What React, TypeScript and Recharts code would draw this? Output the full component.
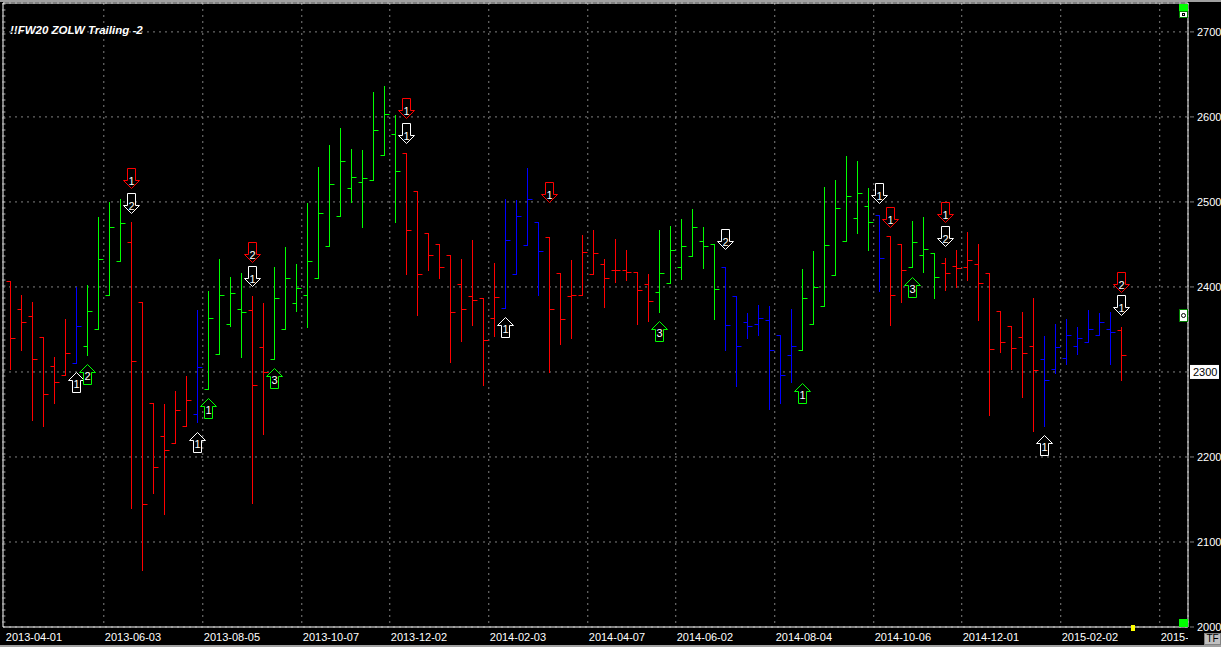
import { ComposedChart, Bar, Scatter, XAxis, YAxis, CartesianGrid, ReferenceArea } from 'recharts';

// weekly OHLC bars, first bar = week of 2013-04-01
const opens = [
  2407, 2374, 2366, 2341, 2307, 2297, 2310, 2331, 2351, 2391, 2431, 2453, 2382, 2264, 2225, 2216, 2236, 2251,
  2280, 2321, 2356, 2374, 2373, 2329, 2315, 2351, 2381, 2390, 2410, 2448, 2484, 2516, 2524, 2526, 2555, 2580,
  2558, 2513, 2464, 2451, 2438, 2403, 2389, 2387, 2363, 2375, 2415, 2449, 2476, 2459, 2416, 2389, 2390, 2415,
  2427, 2420, 2420, 2418, 2404, 2394, 2405, 2424, 2436, 2454, 2450, 2424, 2389, 2359, 2357, 2361, 2344, 2320,
  2326, 2356, 2377, 2414, 2454, 2481, 2495, 2485, 2460, 2451, 2423, 2438, 2440, 2428, 2425, 2423, 2427, 2416,
  2372, 2354, 2341, 2331, 2315, 2303, 2316, 2330, 2335, 2343, 2351, 2349,
];
const highs = [
  2407, 2391, 2382, 2341, 2318, 2362, 2400, 2402, 2482, 2500, 2504, 2476, 2382, 2264, 2262, 2278, 2295, 2373,
  2395, 2433, 2412, 2416, 2389, 2381, 2424, 2447, 2427, 2499, 2541, 2567, 2587, 2562, 2561, 2629, 2636, 2602,
  2558, 2513, 2464, 2451, 2438, 2433, 2455, 2387, 2428, 2504, 2502, 2540, 2476, 2459, 2416, 2432, 2461, 2467,
  2433, 2456, 2444, 2418, 2415, 2467, 2472, 2480, 2492, 2471, 2450, 2424, 2389, 2369, 2379, 2377, 2344, 2374,
  2421, 2442, 2518, 2526, 2554, 2548, 2516, 2485, 2460, 2451, 2478, 2482, 2440, 2434, 2444, 2465, 2451, 2416,
  2372, 2354, 2371, 2387, 2342, 2356, 2362, 2353, 2373, 2369, 2371, 2353,
];
const lows = [
  2303, 2326, 2244, 2236, 2263, 2297, 2310, 2320, 2351, 2391, 2431, 2140, 2067, 2158, 2133, 2216, 2236, 2241,
  2280, 2321, 2354, 2318, 2146, 2227, 2315, 2351, 2372, 2353, 2410, 2448, 2484, 2500, 2470, 2526, 2555, 2476,
  2415, 2367, 2420, 2410, 2312, 2337, 2355, 2285, 2342, 2375, 2415, 2449, 2390, 2300, 2333, 2340, 2390, 2415,
  2376, 2406, 2408, 2357, 2360, 2371, 2405, 2409, 2436, 2422, 2362, 2326, 2283, 2340, 2344, 2257, 2263, 2288,
  2326, 2356, 2377, 2414, 2454, 2463, 2444, 2395, 2355, 2382, 2423, 2417, 2387, 2396, 2400, 2408, 2361, 2249,
  2324, 2304, 2270, 2231, 2236, 2299, 2309, 2321, 2335, 2343, 2309, 2291,
];
const closes = [
  2340, 2359, 2315, 2274, 2288, 2322, 2354, 2372, 2433, 2470, 2475, 2313, 2145, 2188, 2208, 2255, 2267, 2306,
  2363, 2390, 2393, 2371, 2285, 2300, 2387, 2411, 2399, 2430, 2487, 2521, 2548, 2529, 2528, 2585, 2603, 2536,
  2467, 2415, 2438, 2423, 2371, 2374, 2385, 2338, 2388, 2455, 2483, 2503, 2442, 2374, 2362, 2390, 2441, 2440,
  2411, 2420, 2417, 2396, 2383, 2416, 2443, 2448, 2470, 2448, 2397, 2355, 2330, 2354, 2363, 2326, 2296, 2330,
  2387, 2400, 2449, 2493, 2507, 2510, 2476, 2434, 2391, 2420, 2453, 2445, 2412, 2416, 2422, 2432, 2405, 2327,
  2335, 2328, 2322, 2302, 2291, 2329, 2343, 2340, 2351, 2359, 2347, 2320,
];
// trend colour of each bar: r = down, g = up, b = neutral
const trend = [
  'r', 'r', 'r', 'r', 'r', 'r', 'b', 'g', 'g', 'g', 'g', 'r', 'r', 'r', 'r', 'r', 'r', 'b',
  'g', 'g', 'g', 'g', 'r', 'r', 'g', 'g', 'g', 'g', 'g', 'g', 'g', 'g', 'g', 'g', 'g', 'g',
  'r', 'r', 'r', 'r', 'r', 'r', 'r', 'r', 'r', 'b', 'b', 'b', 'b', 'r', 'r', 'r', 'r', 'r',
  'r', 'r', 'r', 'r', 'r', 'g', 'g', 'g', 'g', 'g', 'g', 'b', 'b', 'b', 'b', 'b', 'b', 'b',
  'g', 'g', 'g', 'g', 'g', 'g', 'g', 'b', 'r', 'r', 'g', 'g', 'g', 'r', 'r', 'r', 'r', 'r',
  'r', 'r', 'r', 'r', 'b', 'b', 'b', 'b', 'b', 'b', 'b', 'r',
];

// signal arrows: bar index, price at the arrow tip, direction, colour, label
const signalBars = [11, 11, 6, 7, 22, 22, 18, 17, 24, 36, 36, 45, 49, 59, 65, 72, 79, 80, 82, 85, 85, 94, 101, 101];
const signalPrices = [2516, 2487, 2300, 2309, 2429, 2401, 2269, 2229, 2305, 2599, 2569, 2365, 2500, 2360, 2445, 2287, 2499, 2471, 2412, 2476, 2448, 2226, 2394, 2367];
const signalDirs = ['d', 'd', 'u', 'u', 'd', 'd', 'u', 'u', 'u', 'd', 'd', 'u', 'd', 'u', 'd', 'u', 'd', 'd', 'u', 'd', 'd', 'u', 'd', 'd'];
const signalColors = ['r', 'w', 'w', 'g', 'r', 'w', 'g', 'w', 'g', 'r', 'w', 'w', 'r', 'g', 'w', 'g', 'w', 'r', 'g', 'r', 'w', 'w', 'r', 'w'];
const signalLabels = ['1', '2', '1', '2', '2', '1', '1', '1', '3', '1', '1', '1', '1', '3', '2', '1', '1', '1', '3', '1', '2', '1', '2', '1'];

const tickDates = ['2013-04-01', '2013-06-03', '2013-08-05', '2013-10-07', '2013-12-02', '2014-02-03', '2014-04-07', '2014-06-02', '2014-08-04', '2014-10-06', '2014-12-01', '2015-02-02', '2015-04-06'];
const tickBars = [0, 9, 18, 27, 35, 44, 53, 61, 70, 79, 87, 96, 105];
const priceTicks = [2000, 2100, 2200, 2300, 2400, 2500, 2600, 2700];

const COLORS: Record<string, string> = { r: '#ff0000', g: '#00ff00', b: '#0000ff', w: '#ffffff' };
const FONT = '"Liberation Sans", Arial, sans-serif';
const PLOT_RIGHT = 1188;
const X_MIN = -0.664;
const X_MAX = 107.07;
const Y_MIN = 2000;
const Y_MAX = 2734;

const bars = opens.map((o, i) => ({
  x: i,
  range: [lows[i], highs[i]],
  open: o,
  high: highs[i],
  low: lows[i],
  close: closes[i],
  color: COLORS[trend[i]],
}));

const signals = signalBars.map((b, i) => ({
  x: b,
  y: signalPrices[i],
  dir: signalDirs[i],
  color: COLORS[signalColors[i]],
  label: signalLabels[i],
}));

function OhlcShape(props: any) {
  const { x, y, width, height, payload } = props;
  if (x == null || y == null) return null;
  const c = Math.round(x + width / 2) + 0.5;
  const span = payload.high - payload.low || 1;
  const py = (p: number) => Math.round(y + ((payload.high - p) / span) * height) + 0.5;
  return (
    <g stroke={payload.color} strokeWidth={1}>
      <line x1={c} x2={c} y1={Math.round(y)} y2={Math.round(y + height) + 1} />
      <line x1={c - 4} x2={c} y1={py(payload.open)} y2={py(payload.open)} />
      <line x1={c} x2={c + 5} y1={py(payload.close)} y2={py(payload.close)} />
    </g>
  );
}

function ArrowShape(props: any) {
  const { cx, cy, payload } = props;
  if (cx == null || cy == null) return null;
  const c = Math.round(cx) + 0.5;
  const t = Math.round(cy) + 0.5;
  const d =
    payload.dir === 'd'
      ? `M${c - 4} ${t - 20} H${c + 4} V${t - 8} H${c + 8} L${c} ${t} L${c - 8} ${t - 8} H${c - 4} Z`
      : `M${c} ${t} L${c + 8} ${t + 8} H${c + 4} V${t + 20} H${c - 4} V${t + 8} H${c - 8} Z`;
  const ty = payload.dir === 'd' ? t - 8 : t + 11;
  return (
    <g>
      <path d={d} fill="#000" stroke={payload.color} strokeWidth={1} />
      <text x={c} y={ty} fill="#fff" fontSize={11} fontFamily={FONT} textAnchor="middle" dominantBaseline="central">
        {payload.label}
      </text>
    </g>
  );
}

function DateTick(props: any) {
  const { x, index } = props;
  return (
    <g>
      <defs>
        <clipPath id="xlabel-clip">
          <rect x={0} y={600} width={PLOT_RIGHT} height={47} />
        </clipPath>
      </defs>
      <text x={x + 1} y={641} fill="#fff" fontSize={11} fontFamily={FONT} clipPath="url(#xlabel-clip)">
        {tickDates[index]}
      </text>
    </g>
  );
}

function PriceTick(props: any) {
  const { y, payload } = props;
  if (payload.value === 2300) {
    return (
      <g>
        <rect x={PLOT_RIGHT + 2} y={y - 7} width={29} height={14} fill="#fff" />
        <text x={PLOT_RIGHT + 5} y={y} fill="#000" fontSize={11} fontFamily={FONT} dominantBaseline="central">
          {payload.value}
        </text>
      </g>
    );
  }
  return (
    <g>
      <line x1={PLOT_RIGHT + 2} x2={PLOT_RIGHT + 6} y1={y} y2={y} stroke="#808080" />
      <text x={PLOT_RIGHT + 9} y={y} fill="#fff" fontSize={11} fontFamily={FONT} dominantBaseline="central">
        {payload.value}
      </text>
    </g>
  );
}

const box = (left: number, top: number, w: number, h: number, style: any = {}) => ({
  position: 'absolute' as const,
  left,
  top,
  width: w,
  height: h,
  boxSizing: 'border-box' as const,
  ...style,
});

export default function App() {
  return (
    <div style={{ position: 'fixed', left: 0, top: 0, width: 1221, height: 647, background: '#000', overflow: 'hidden', fontFamily: FONT }}>
      <ComposedChart width={1221} height={647} data={bars} margin={{ top: 3, right: 0, left: 3, bottom: 0 }}>
        <CartesianGrid stroke="#808080" strokeDasharray="2 4" />
        <XAxis
          dataKey="x"
          type="number"
          domain={[X_MIN, X_MAX]}
          allowDataOverflow
          ticks={tickBars.map((b) => b - 0.5)}
          interval={0}
          height={20}
          axisLine={false}
          tickLine={false}
          tick={<DateTick />}
        />
        <YAxis
          orientation="right"
          type="number"
          domain={[Y_MIN, Y_MAX]}
          allowDataOverflow
          ticks={priceTicks}
          interval={0}
          width={33}
          axisLine={false}
          tickLine={false}
          tick={<PriceTick />}
        />
        <ReferenceArea x1={X_MIN} x2={X_MAX} y1={Y_MIN} y2={Y_MAX} fill="none" stroke="#ffffff" fillOpacity={0} />
        <Bar dataKey="range" barSize={8} isAnimationActive={false} shape={<OhlcShape />} />
        <Scatter data={signals} dataKey="y" isAnimationActive={false} shape={<ArrowShape />} />
      </ComposedChart>

      <div style={{ position: 'absolute', left: 10, top: 24, color: '#fff', fontSize: 11.5, fontWeight: 'bold', fontStyle: 'italic', lineHeight: '13px', whiteSpace: 'nowrap' }}>
        !!FW20 ZOLW Trailing -2
      </div>

      <div style={box(0, 0, 1221, 2, { background: '#a0a0a0' })} />
      <div style={box(0, 645, 1221, 2, { background: '#a0a0a0' })} />
      <div style={box(1179, 4, 9, 7, { background: '#00ff00' })} />
      <div style={box(1179, 11, 9, 7, { background: '#fff', border: '1px solid #008000' })}>
        <div style={box(2, 1, 3, 3, { border: '1px solid #000' })} />
      </div>
      <div style={box(1179, 309, 9, 13, { background: '#fff', border: '1px solid #008000' })}>
        <div style={box(1, 3, 5, 5, { border: '1px solid #000', borderRadius: '50%' })} />
      </div>
      <div style={box(1179, 619, 9, 8, { background: '#00ff00' })} />
      <div style={box(1131, 625, 4, 6, { background: '#ffff00' })} />
      <div style={box(1204, 633, 17, 12, { background: '#c0c0c0', border: '1px solid #808080', color: '#000', fontSize: 10, lineHeight: '10px', textAlign: 'center' })}>
        TF
      </div>
    </div>
  );
}
